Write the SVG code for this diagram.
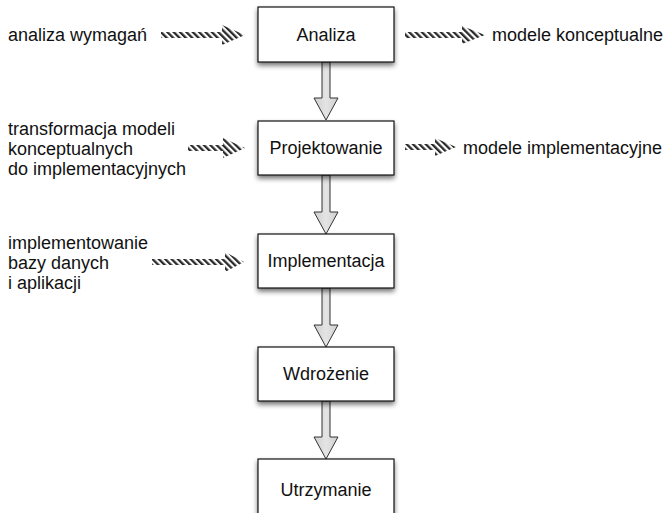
<svg xmlns="http://www.w3.org/2000/svg" width="665" height="513" viewBox="0 0 665 513">
<style>
text{font-family:"Liberation Sans",Arial,sans-serif;font-size:18px;fill:#111}
.box{fill:#fff;stroke:#111;stroke-width:1.2}
.lbl{text-anchor:middle}
.blk{fill:url(#g);stroke:#333;stroke-width:1}
.hat{fill:url(#hatch)}
</style>
<defs>
<filter id="sh" x="-20%" y="-20%" width="140%" height="150%">
<feGaussianBlur in="SourceAlpha" stdDeviation="2.5"/>
<feOffset dx="0" dy="3" result="b"/>
<feComponentTransfer><feFuncA type="linear" slope="0.55"/></feComponentTransfer>
<feMerge><feMergeNode/><feMergeNode in="SourceGraphic"/></feMerge>
</filter>
<linearGradient id="g" x1="0" y1="0" x2="1" y2="0">
<stop offset="0" stop-color="#cfcfcf"/><stop offset="0.5" stop-color="#e4e4e4"/><stop offset="1" stop-color="#cfcfcf"/>
</linearGradient>
<pattern id="hatch" width="4.5" height="4.5" patternUnits="userSpaceOnUse" patternTransform="rotate(-45)">
<rect width="4.5" height="4.5" fill="#fff"/><rect width="2.3" height="4.5" fill="#2a2a2a"/>
</pattern>
</defs>

<g id="connectors">
<path class="blk" d="M322,62 V98 H314 L326,120 L338,98 H330 V62 Z"/>
<path class="blk" d="M322,175 V212 H314 L326,234 L338,212 H330 V175 Z"/>
<path class="blk" d="M322,288 V325 H314 L326,347 L338,325 H330 V288 Z"/>
<path class="blk" d="M322,401 V437 H314 L326,459 L338,437 H330 V401 Z"/>
<path class="hat" d="M161,32 H222 V25 L245,35 L222,45 V38 H161 Z"/>
<path class="hat" d="M405,32 H462 V26 L485,35 L462,44 V38 H405 Z"/>
<path class="hat" d="M188,145 H223 V138 L245,148 L223,158 V151 H188 Z"/>
<path class="hat" d="M405,144 H435 V138 L456,147 L435,156 V150 H405 Z"/>
<path class="hat" d="M152,259 H225 V252 L244,262 L225,272 V265 H152 Z"/>
</g>

<g id="analiza"><rect class="box" x="258" y="7" width="136" height="55" filter="url(#sh)"/><text class="lbl" x="326" y="41">Analiza</text></g>
<g id="projektowanie"><rect class="box" x="258" y="121" width="136" height="54" filter="url(#sh)"/><text class="lbl" x="326" y="154">Projektowanie</text></g>
<g id="implementacja"><rect class="box" x="258" y="234" width="136" height="54" filter="url(#sh)"/><text class="lbl" x="326" y="267">Implementacja</text></g>
<g id="wdrozenie"><rect class="box" x="258" y="347" width="136" height="54" filter="url(#sh)"/><text class="lbl" x="326" y="380">Wdrożenie</text></g>
<g id="utrzymanie"><rect class="box" x="258" y="459" width="136" height="56" filter="url(#sh)"/><text class="lbl" x="326" y="496">Utrzymanie</text></g>

<g id="labels">
<text x="8" y="41">analiza wymagań</text>
<text x="492" y="41">modele konceptualne</text>
<text x="8" y="135">transformacja modeli</text>
<text x="8" y="155">konceptualnych</text>
<text x="8" y="175">do implementacyjnych</text>
<text x="463" y="154">modele implementacyjne</text>
<text x="8" y="249">implementowanie</text>
<text x="8" y="269">bazy danych</text>
<text x="8" y="289">i aplikacji</text>
</g>
</svg>
